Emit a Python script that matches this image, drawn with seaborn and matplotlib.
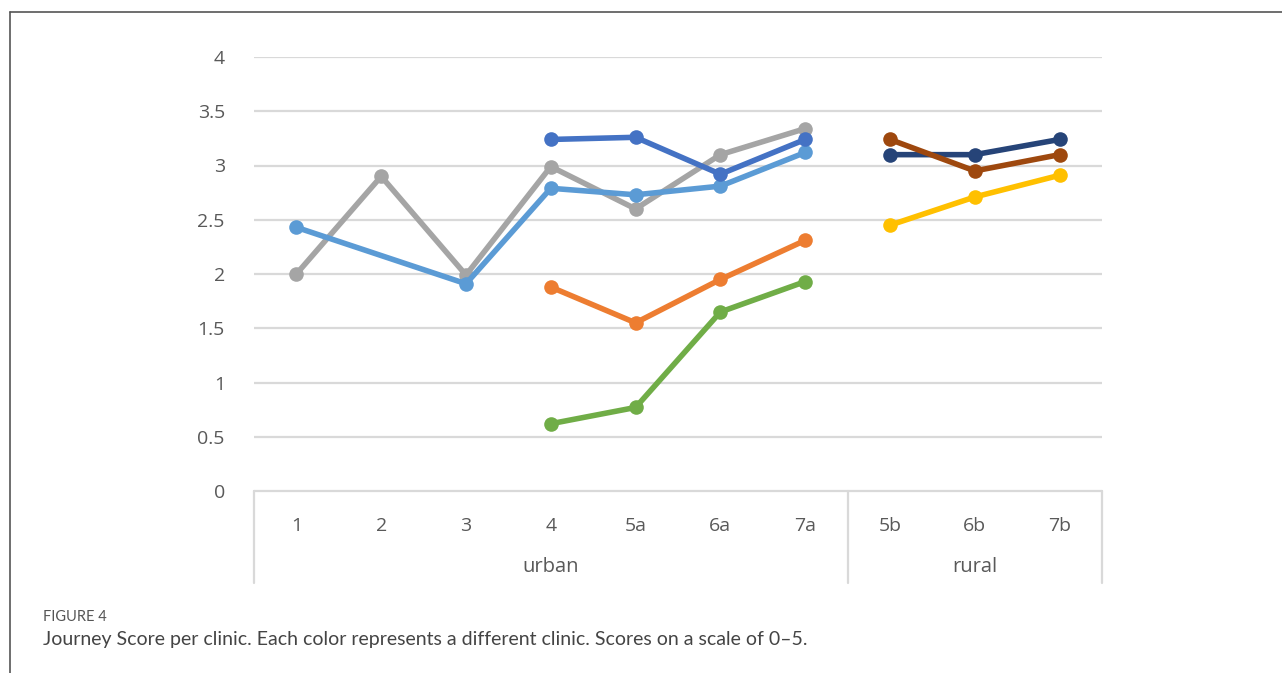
import matplotlib
matplotlib.use("Agg")
import matplotlib.pyplot as plt
import matplotlib.transforms as mtransforms
import seaborn as sns
import pandas as pd
import numpy as np

# Clinic categories along the x axis, grouped by setting
categories = ["1", "2", "3", "4", "5a", "6a", "7a", "5b", "6b", "7b"]
groups = ["urban", "rural"]
group_members = [["1", "2", "3", "4", "5a", "6a", "7a"], ["5b", "6b", "7b"]]

# Journey scores, one series per clinic line
gray_cats = ["1", "2", "3", "4", "5a", "6a", "7a"]
gray_vals = [2.00, 2.90, 1.99, 2.99, 2.60, 3.10, 3.34]

lightblue_cats = ["1", "3", "4", "5a", "6a", "7a"]
lightblue_vals = [2.43, 1.91, 2.79, 2.73, 2.81, 3.12]

blue_cats = ["4", "5a", "6a", "7a"]
blue_vals = [3.24, 3.26, 2.92, 3.24]

orange_cats = ["4", "5a", "6a", "7a"]
orange_vals = [1.88, 1.55, 1.95, 2.31]

green_cats = ["4", "5a", "6a", "7a"]
green_vals = [0.62, 0.77, 1.65, 1.93]

navy_cats = ["5b", "6b", "7b"]
navy_vals = [3.10, 3.10, 3.24]

brown_cats = ["5b", "6b", "7b"]
brown_vals = [3.24, 2.95, 3.10]

yellow_cats = ["5b", "6b", "7b"]
yellow_vals = [2.45, 2.71, 2.91]

series = [
    ("gray", gray_cats, gray_vals, "#A5A5A5"),
    ("lightblue", lightblue_cats, lightblue_vals, "#5B9BD5"),
    ("blue", blue_cats, blue_vals, "#4472C4"),
    ("orange", orange_cats, orange_vals, "#ED7D31"),
    ("green", green_cats, green_vals, "#70AD47"),
    ("navy", navy_cats, navy_vals, "#264478"),
    ("brown", brown_cats, brown_vals, "#9E480E"),
    ("yellow", yellow_cats, yellow_vals, "#FFC000"),
]

rows = []
for name, cats, vals, _ in series:
    for c, v in zip(cats, vals):
        rows.append({"clinic": name, "cat": c, "pos": categories.index(c), "score": v})
df = pd.DataFrame(rows)
palette = {name: col for name, _, _, col in series}

sns.set_theme(style="white")
plt.rcParams["font.family"] = ["Open Sans", "DejaVu Sans"]

fig = plt.figure(figsize=(12.82, 6.73), dpi=100)
ax = fig.add_axes([254 / 1282, 1 - 491 / 673, (1102 - 254) / 1282, (491 - 57) / 673])

label_color = "#595959"
grid_color = "#D9D9D9"

# horizontal gridlines
for yv in np.arange(0.5, 4.01, 0.5):
    ax.axhline(yv, color=grid_color, lw=1.6, zorder=0)

sns.lineplot(data=df, x="pos", y="score", hue="clinic", hue_order=list(palette.keys()),
             palette=palette, marker="o", markersize=10.5, markeredgewidth=0,
             linewidth=4.0, legend=False, ax=ax, sort=True, estimator=None,
             units="clinic", zorder=3)

ax.set_xlim(-0.5, len(categories) - 0.5)
ax.set_ylim(0, 4)
for s in ax.spines.values():
    s.set_visible(False)
ax.axhline(0, color=grid_color, lw=1.6, zorder=1, clip_on=False)

ax.set_yticks(np.arange(0, 4.01, 0.5))
ax.set_yticklabels(["0", "0.5", "1", "1.5", "2", "2.5", "3", "3.5", "4"])
ax.tick_params(axis="y", length=0, pad=21, labelsize=14, labelcolor=label_color)

ax.set_xticks(range(len(categories)))
ax.set_xticklabels(categories)
ax.tick_params(axis="x", length=0, pad=19, labelsize=14, labelcolor=label_color)
ax.set_xlabel("")
ax.set_ylabel("")

# group dividers and labels below the category axis
trans = mtransforms.blended_transform_factory(ax.transData, ax.transAxes)
depth = (583 - 491) / (491 - 57)
edges = [-0.5]
for members in group_members:
    edges.append(edges[-1] + len(members))
for xe in edges:
    ax.plot([xe, xe], [0, -depth], transform=trans, color=grid_color, lw=1.6, clip_on=False)
for g, members, lo, hi in zip(groups, group_members, edges[:-1], edges[1:]):
    ax.text((lo + hi) / 2, -(567 - 491) / (491 - 57), g, transform=trans,
            ha="center", va="center", fontsize=14.5, color=label_color)

# frame lines of the figure panel
fig.add_artist(plt.Line2D([10 / 1282, 10 / 1282], [0, 1 - 12 / 673],
                          transform=fig.transFigure, color="#555555", lw=1.2))
fig.add_artist(plt.Line2D([10 / 1282, 1], [1 - 12 / 673, 1 - 12 / 673],
                          transform=fig.transFigure, color="#555555", lw=1.2))

fig.text(43 / 1282, 1 - 617 / 673, "FIGURE 4", fontsize=10.5, color="#555555",
         va="center", ha="left", family=["Lato", "DejaVu Sans"])
fig.text(43 / 1282, 1 - 640 / 673,
         "Journey Score per clinic. Each color represents a different clinic. Scores on a scale of 0\u20135.",
         fontsize=14, color="#444444", va="center", ha="left", family=["Lato", "DejaVu Sans"])

fig.savefig("out.png", dpi=100)
